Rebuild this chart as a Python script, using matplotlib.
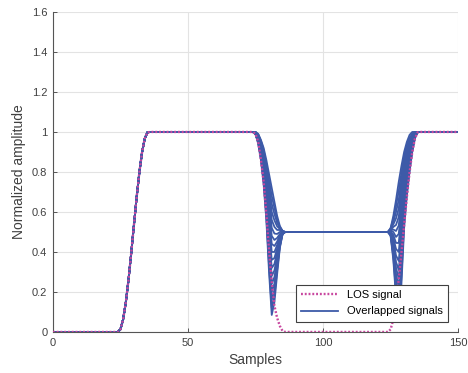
import matplotlib.pyplot as plt
from matplotlib.ticker import FormatStrFormatter

plt.rcParams['font.family'] = ['Liberation Sans', 'DejaVu Sans']

# LOS pulse: ramps up around 24-36, down around 74-86, up again around 124-136
los_x = [0, 24, 25, 26, 27, 28, 29, 30, 31, 32, 33, 34, 35, 36,
         74, 75, 76, 77, 78, 79, 80, 81, 82, 83, 84, 85, 86,
         124, 125, 126, 127, 128, 129, 130, 131, 132, 133, 134, 135, 136, 150]
los_y = [0, 0, 0.013, 0.063, 0.149, 0.262, 0.395, 0.535, 0.673, 0.797, 0.898, 0.967, 0.998, 1,
         1, 0.99, 0.95, 0.86, 0.75, 0.59, 0.41, 0.25, 0.13, 0.07, 0.03, 0.005, 0,
         0, 0.013, 0.063, 0.149, 0.262, 0.395, 0.535, 0.673, 0.797, 0.898, 0.967, 0.998, 1, 1]

# overlapped signals share the LOS leading edge
lead_x = [0, 24, 25, 26, 27, 28, 29, 30, 31, 32, 33, 34, 35, 36]
lead_y = [0, 0, 0.013, 0.063, 0.149, 0.262, 0.395, 0.535, 0.673, 0.797, 0.898, 0.967, 0.998, 1]

# falling edge, samples 74..87 (one row per overlapped signal)
fall_x = [74, 75, 76, 77, 78, 79, 80, 81, 82, 83, 84, 85, 86, 87]
fall_y = [
    [1.00, 0.99, 0.94, 0.86, 0.74, 0.56, 0.30, 0.085, 0.15, 0.29, 0.42, 0.49, 0.50, 0.50],
    [1.00, 0.99, 0.945, 0.865, 0.75, 0.58, 0.33, 0.12, 0.18, 0.31, 0.425, 0.49, 0.50, 0.50],
    [1.00, 0.99, 0.95, 0.87, 0.76, 0.60, 0.36, 0.16, 0.21, 0.33, 0.43, 0.49, 0.50, 0.50],
    [1.00, 0.99, 0.95, 0.878, 0.772, 0.618, 0.39, 0.20, 0.242, 0.345, 0.44, 0.49, 0.50, 0.50],
    [1.00, 0.99, 0.95, 0.885, 0.785, 0.635, 0.42, 0.24, 0.275, 0.36, 0.45, 0.49, 0.50, 0.50],
    [1.00, 0.99, 0.955, 0.892, 0.798, 0.652, 0.45, 0.28, 0.308, 0.38, 0.455, 0.492, 0.50, 0.50],
    [1.00, 0.99, 0.96, 0.90, 0.81, 0.67, 0.48, 0.32, 0.34, 0.40, 0.46, 0.495, 0.50, 0.50],
    [1.00, 0.992, 0.962, 0.905, 0.82, 0.69, 0.512, 0.36, 0.37, 0.418, 0.468, 0.498, 0.50, 0.50],
    [1.00, 0.995, 0.965, 0.91, 0.83, 0.71, 0.545, 0.40, 0.40, 0.435, 0.475, 0.50, 0.50, 0.50],
    [1.00, 0.995, 0.968, 0.915, 0.84, 0.73, 0.578, 0.44, 0.43, 0.452, 0.482, 0.50, 0.50, 0.50],
    [1.00, 0.995, 0.97, 0.92, 0.85, 0.75, 0.61, 0.48, 0.46, 0.47, 0.49, 0.50, 0.50, 0.50],
    [1.00, 0.995, 0.975, 0.928, 0.862, 0.768, 0.64, 0.52, 0.492, 0.49, 0.50, 0.50, 0.50, 0.50],
    [1.00, 0.995, 0.98, 0.935, 0.875, 0.785, 0.67, 0.56, 0.525, 0.51, 0.51, 0.50, 0.50, 0.50],
    [1.00, 0.998, 0.982, 0.942, 0.888, 0.802, 0.70, 0.60, 0.558, 0.528, 0.515, 0.502, 0.50, 0.50],
    [1.00, 1.00, 0.985, 0.95, 0.90, 0.82, 0.73, 0.64, 0.59, 0.545, 0.52, 0.505, 0.50, 0.50],
    [1.00, 1.00, 0.988, 0.955, 0.91, 0.84, 0.76, 0.68, 0.62, 0.562, 0.525, 0.505, 0.50, 0.50],
    [1.00, 1.00, 0.99, 0.96, 0.92, 0.86, 0.79, 0.72, 0.65, 0.58, 0.53, 0.505, 0.50, 0.50],
]

# rising edge, samples 123..137
rise_x = [123, 124, 125, 126, 127, 128, 129, 130, 131, 132, 133, 134, 135, 136, 137]
rise_y = [
    [0.5, 0.5, 0.48, 0.36, 0.17, 0.05, 0.24, 0.52, 0.68, 0.80, 0.90, 0.97, 1, 1, 1],
    [0.5, 0.5, 0.482, 0.375, 0.20, 0.095, 0.275, 0.545, 0.695, 0.81, 0.905, 0.97, 1, 1, 1],
    [0.5, 0.5, 0.485, 0.39, 0.23, 0.14, 0.31, 0.57, 0.71, 0.82, 0.91, 0.97, 1, 1, 1],
    [0.5, 0.5, 0.488, 0.402, 0.26, 0.182, 0.35, 0.592, 0.73, 0.832, 0.918, 0.975, 1, 1, 1],
    [0.5, 0.5, 0.49, 0.415, 0.29, 0.225, 0.39, 0.615, 0.75, 0.845, 0.925, 0.98, 1, 1, 1],
    [0.5, 0.5, 0.492, 0.428, 0.32, 0.268, 0.425, 0.638, 0.765, 0.858, 0.932, 0.98, 1, 1, 1],
    [0.5, 0.5, 0.495, 0.44, 0.35, 0.31, 0.46, 0.66, 0.78, 0.87, 0.94, 0.98, 1, 1, 1],
    [0.5, 0.5, 0.498, 0.455, 0.382, 0.355, 0.50, 0.685, 0.798, 0.88, 0.945, 0.982, 1, 1, 1],
    [0.5, 0.5, 0.50, 0.47, 0.415, 0.40, 0.54, 0.71, 0.815, 0.89, 0.95, 0.985, 1, 1, 1],
    [0.5, 0.5, 0.502, 0.485, 0.445, 0.445, 0.575, 0.732, 0.832, 0.902, 0.955, 0.988, 1, 1, 1],
    [0.5, 0.5, 0.505, 0.50, 0.475, 0.49, 0.61, 0.755, 0.85, 0.915, 0.96, 0.99, 1, 1, 1],
    [0.5, 0.5, 0.508, 0.512, 0.505, 0.532, 0.65, 0.778, 0.865, 0.922, 0.968, 0.99, 1, 1, 1],
    [0.5, 0.5, 0.51, 0.525, 0.535, 0.575, 0.69, 0.80, 0.88, 0.93, 0.975, 0.99, 1, 1, 1],
    [0.5, 0.5, 0.512, 0.538, 0.568, 0.618, 0.725, 0.828, 0.898, 0.942, 0.98, 0.995, 1, 1, 1],
    [0.5, 0.5, 0.515, 0.55, 0.60, 0.66, 0.76, 0.855, 0.915, 0.955, 0.985, 1.0, 1, 1, 1],
    [0.5, 0.5, 0.518, 0.565, 0.63, 0.705, 0.795, 0.878, 0.932, 0.97, 0.992, 1.0, 1, 1, 1],
    [0.5, 0.5, 0.52, 0.58, 0.66, 0.75, 0.83, 0.90, 0.95, 0.985, 1.0, 1.0, 1, 1, 1],
]
tail_x = [150]
tail_y = [1]

xticks = [0, 50, 100, 150]
yticks = [0, 0.2, 0.4, 0.6, 0.8, 1, 1.2, 1.4, 1.6]

fig = plt.figure(figsize=(4.68, 3.73), dpi=100)
ax = fig.add_axes([0.113, 0.110, 0.866, 0.858])

blue = '#3d5aa8'
for fy, ry in zip(fall_y, rise_y):
    x = lead_x + fall_x + rise_x + tail_x
    y = lead_y + fy + ry + tail_y
    ov, = ax.plot(x, y, color=blue, lw=1.3, zorder=2)

los, = ax.plot(los_x, los_y, color='#c8479f', lw=1.7,
               linestyle=(0, (0.8, 0.8)), zorder=3)

ax.set_xlim(0, 150)
ax.set_ylim(0, 1.6)
ax.set_xticks(xticks)
ax.set_yticks(yticks)
ax.yaxis.set_major_formatter(FormatStrFormatter('%g'))
ax.grid(True, color='#e3e3e3', lw=0.8)
ax.set_axisbelow(True)

for s in ['top', 'right']:
    ax.spines[s].set_visible(False)
for s in ['left', 'bottom']:
    ax.spines[s].set_color('#555555')
    ax.spines[s].set_linewidth(0.8)
ax.tick_params(direction='in', length=3, width=0.7, colors='#555555',
               labelsize=8, labelcolor='#404040', pad=4)

ax.set_xlabel('Samples', fontsize=10, color='#404040', labelpad=4)
ax.set_ylabel('Normalized amplitude', fontsize=10, color='#404040', labelpad=4)

leg = ax.legend([los, ov], ['LOS signal', 'Overlapped signals'],
                loc='lower right', fontsize=8, frameon=True, fancybox=False,
                edgecolor='#404040', framealpha=1, borderaxespad=0.9,
                handlelength=3.3, borderpad=0.5, labelspacing=0.55)
leg.get_frame().set_linewidth(0.8)
leg.set_zorder(5)

fig.savefig('out.png', dpi=100)
plt.close(fig)
